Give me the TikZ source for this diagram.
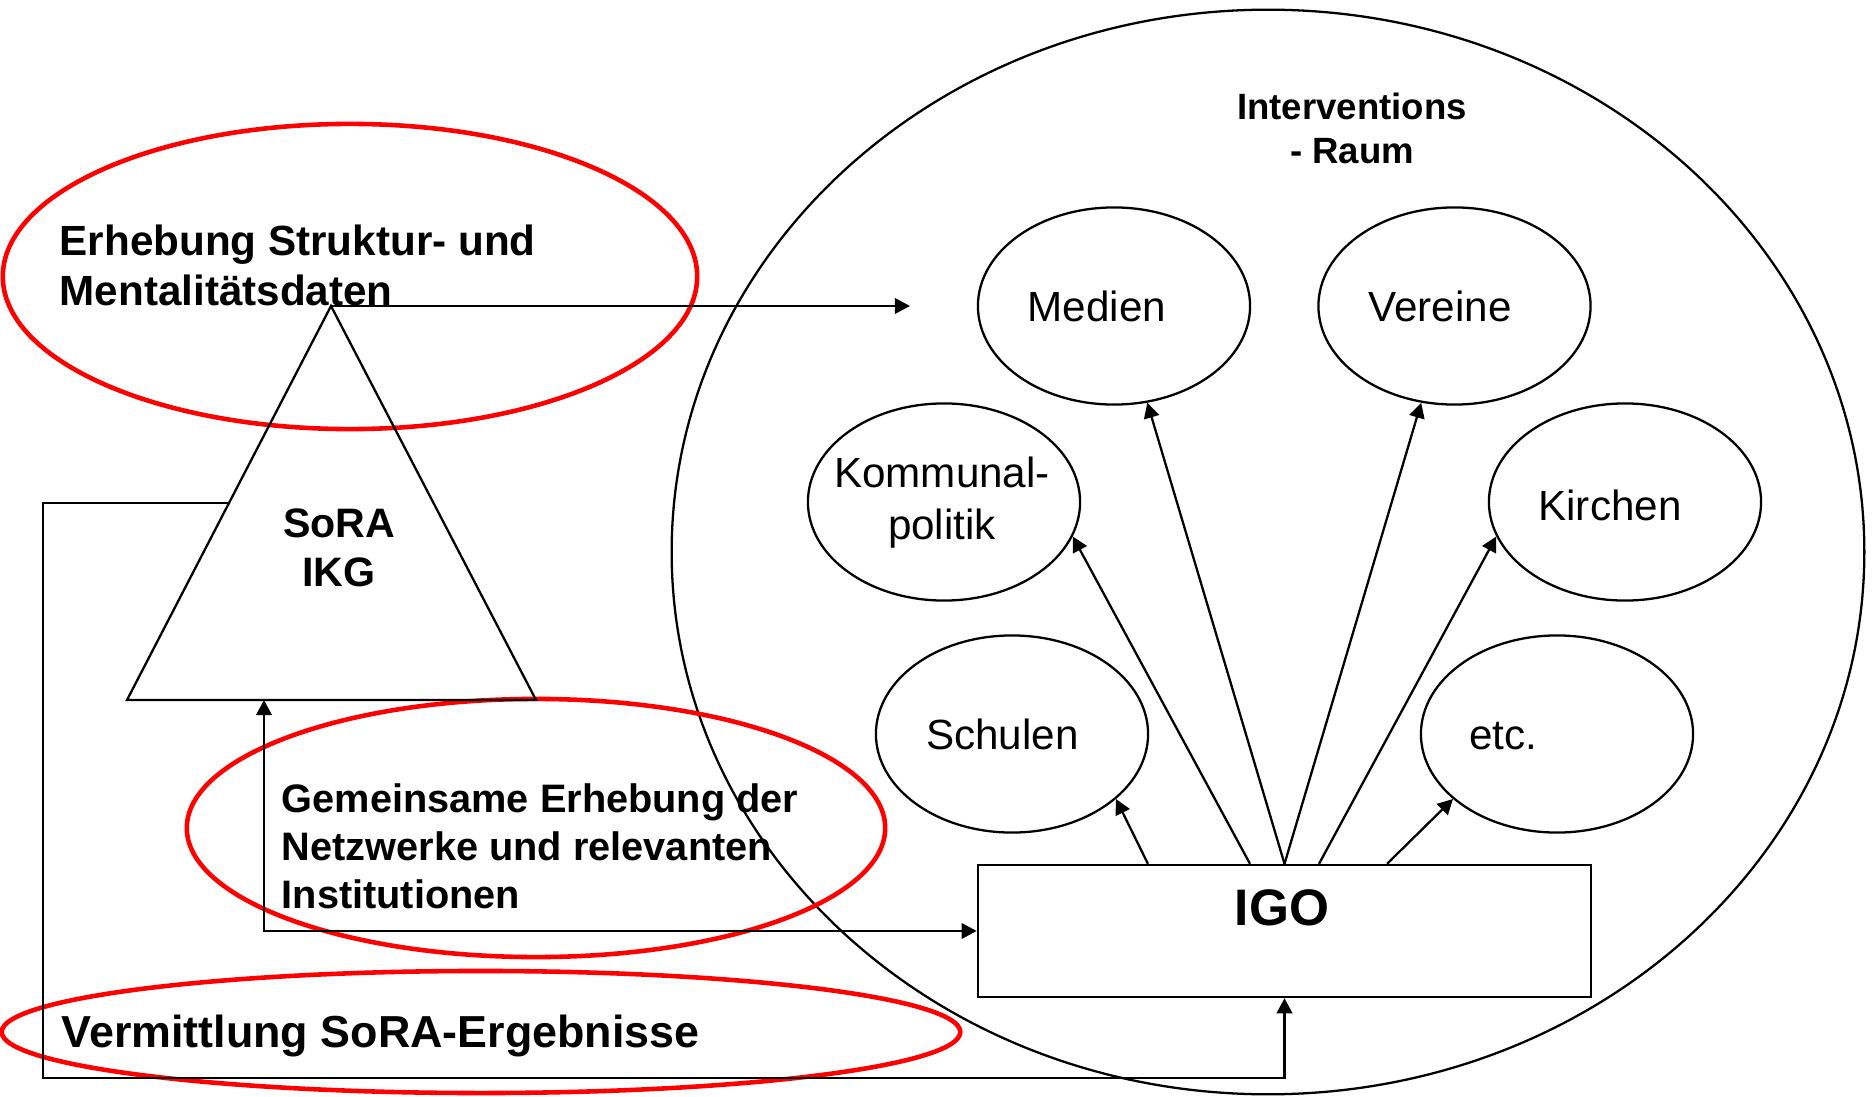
\documentclass[tikz,border=0pt]{standalone}
\usepackage{fontspec}
\setmainfont{Liberation Sans}
\usetikzlibrary{arrows.meta,calc,shapes.geometric}

% multi-line text blocks whose baseline is the first line
\newcommand{\stackl}[1]{\begin{tabular}[t]{@{}l@{}}#1\end{tabular}}
\newcommand{\stackc}[1]{\begin{tabular}[t]{@{}c@{}}#1\end{tabular}}

\begin{document}
\begin{tikzpicture}[x=0.01cm, y=-0.01cm,
  blk/.style={draw=black, line width=0.65pt},
  conn/.style={blk, -{Triangle[length=4.3pt,width=4.4pt]}},
  bubble/.style={ellipse, blk, inner sep=0pt, minimum width=2.72cm, minimum height=1.97cm},
  bubbletext/.style={font=\fontsize{12pt}{14.2pt}\selectfont, anchor=base, inner sep=0pt},
  focus/.style={ellipse, draw=red, line width=1.3pt, inner sep=0pt},
  boldtext/.style={inner sep=0pt},
]
\useasboundingbox (0,0) rectangle (1872,1097);

% intervention space
\node[ellipse, blk, inner sep=0pt, minimum width=11.92cm, minimum height=10.84cm] (space) at (1268,552) {};

% red highlight rings
\node[focus, minimum width=6.94cm, minimum height=3.05cm] (ring1) at (350,276.5) {};
\node[focus, minimum width=6.98cm, minimum height=2.58cm] (ring2) at (536,828) {};
\node[focus, minimum width=9.58cm, minimum height=1.22cm] (ring3) at (481,1032) {};

% SoRA / IKG triangle
\coordinate (apex) at (331,306);
\coordinate (bl) at (127,700);
\coordinate (br) at (536,700);
\draw[blk] (apex) -- (bl) -- (br) -- cycle;
\coordinate (loopstart) at ($(apex)!0.5!(bl)$);
\coordinate (tb) at (264,700);
\coordinate (lc) at (43,1078);
\coordinate (medfree) at (910,306);

% institutions
\node[bubble] (medien)  at (1114,306) {};
\node[bubble] (vereine) at (1454.5,306) {};
\node[bubble] (komm)    at (944,502) {};
\node[bubble] (kirchen) at (1625,502) {};
\node[bubble] (schulen) at (1012,734) {};
\node[bubble] (etc)     at (1557,734) {};

\node[bubbletext] (medien-t)  at (1097,322) {Medien};
\node[bubbletext] (vereine-t) at (1440,322) {Vereine};
\node[bubbletext] (komm-t)    at (942,488) {\stackc{Kommunal-\\[0.4pt]politik}};
\node[bubbletext] (kirchen-t) at (1610,520) {Kirchen};
\node[bubbletext] (schulen-t) at (1002.5,749) {Schulen};
\node[bubbletext] (etc-t)     at (1503.5,749) {etc.};

% IGO box
\node[blk, inner sep=0pt, minimum width=6.13cm, minimum height=1.32cm] (igo) at (1284.5,931) {};
\node[boldtext, anchor=base, font=\bfseries\fontsize{14.6pt}{17pt}\selectfont] (igo-t) at (1282,925) {IGO};

% connectors out of IGO
\draw[conn] ([xshift=-1.365cm]igo.north) -- (schulen.-32.4);
\draw[conn] ([xshift=-0.345cm]igo.north) -- (komm.-15);
\draw[conn] (igo.north) -- (medien.-71);
\draw[conn] (igo.north) -- (vereine.-109.2);
\draw[conn] ([xshift=0.345cm]igo.north) -- (kirchen.195);
\draw[conn] ([xshift=1.025cm]igo.north) -- (etc.212.7);

% survey results into the intervention space
\draw[conn] (apex) -- (medfree);
% joint survey between SoRA/IKG and IGO
\draw[blk, {Triangle[length=4.3pt,width=4.4pt]}-{Triangle[length=4.3pt,width=4.4pt]}] (tb) |- (igo.west);
% feedback of results
\draw[conn] (loopstart) -| (lc) -| (igo.south);

% labels
\node[boldtext, anchor=base west, font=\bfseries\fontsize{12pt}{14.2pt}\selectfont] (erh) at (59,256)
  {\stackl{Erhebung Struktur- und\\Mentalitätsdaten}};
\node[boldtext, anchor=base west, font=\bfseries\fontsize{11.3pt}{13.66pt}\selectfont] (gem) at (281,812)
  {\stackl{Gemeinsame Erhebung der\\Netzwerke und relevanten\\Institutionen}};
\node[boldtext, anchor=base west, font=\bfseries\fontsize{12.75pt}{15pt}\selectfont] (verm) at (61,1047)
  {Vermittlung SoRA-Ergebnisse};
\node[boldtext, anchor=base, font=\bfseries\fontsize{11.7pt}{14.2pt}\selectfont] (sora) at (339,537)
  {\stackc{SoRA\\IKG}};
\node[boldtext, anchor=base, font=\bfseries\fontsize{10.4pt}{12.5pt}\selectfont] (raum) at (1352,120)
  {\stackc{Interventions\\- Raum}};
\end{tikzpicture}
\end{document}
